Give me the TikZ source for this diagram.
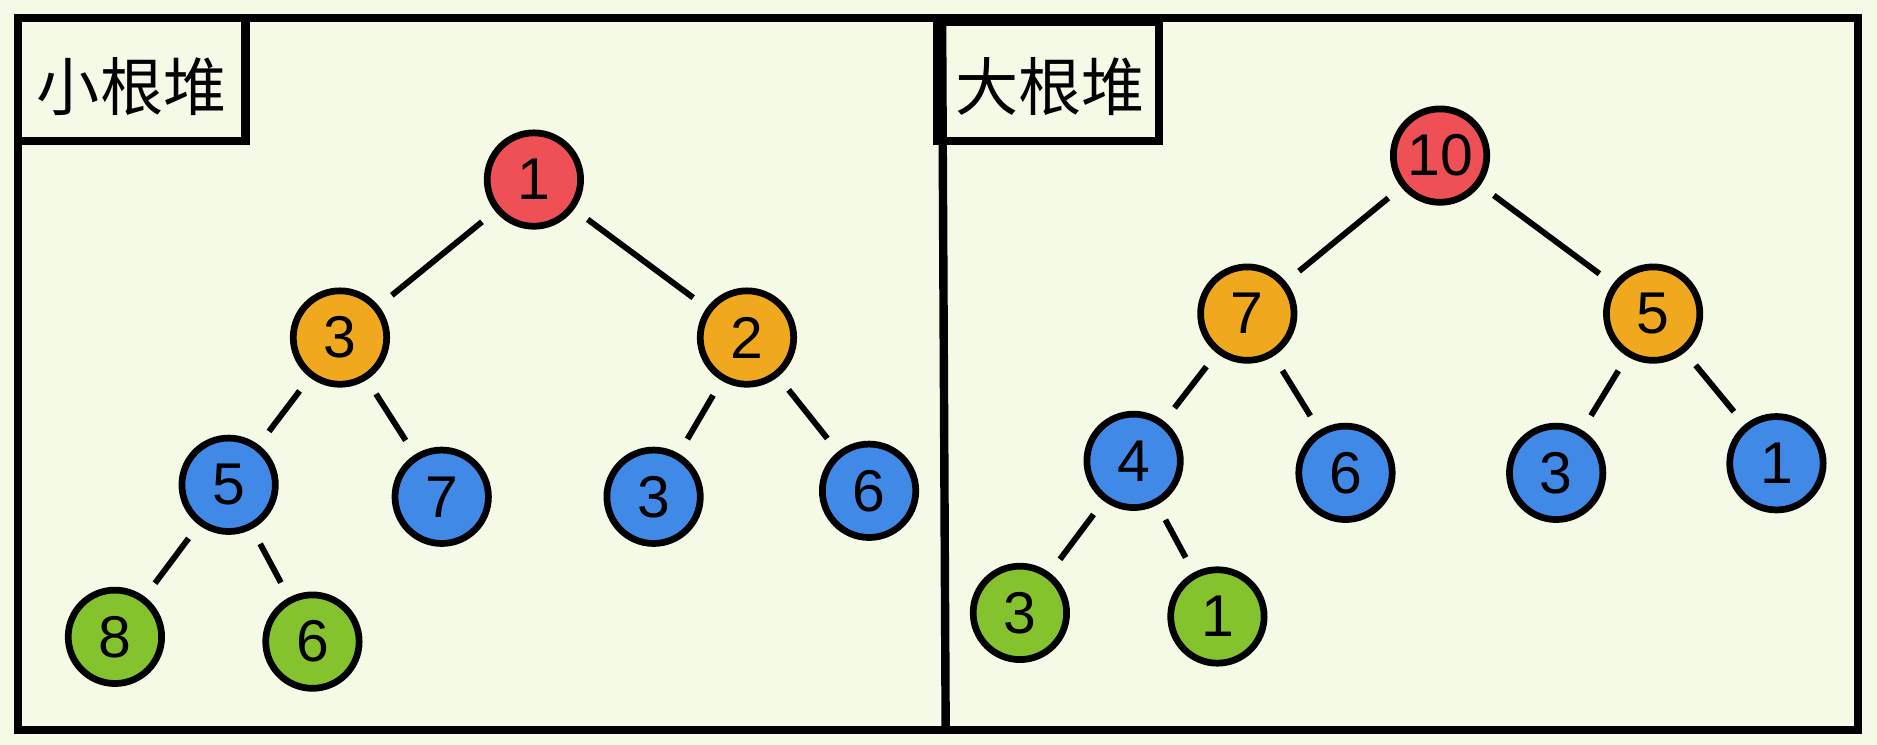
\documentclass[tikz,border=0pt]{standalone}
\usepackage{fontspec}
\newfontfamily\cjk{Noto Sans CJK SC}
\setmainfont{Liberation Sans}
\definecolor{bg}{HTML}{F5FAE6}
\definecolor{cr}{HTML}{EE5055}
\definecolor{co}{HTML}{F0A81E}
\definecolor{cb}{HTML}{4189E6}
\definecolor{cg}{HTML}{84C32E}
\begin{document}
\begin{tikzpicture}[x=0.01cm,y=-0.01cm,
  nd/.style={circle,draw=black,line width=1.6pt,minimum size=0.78cm,inner sep=0pt,font=\fontsize{14}{14}\selectfont},
  ed/.style={line width=1.4pt,shorten <=4pt,shorten >=4pt},
  frm/.style={line width=2pt}]
\fill[bg] (0,0) rectangle (1568,622);
\useasboundingbox (0,0) rectangle (1568,622);
\draw[frm] (15,15) rectangle (1552,610);
\draw[frm] (787,15) -- (790,610);
\draw[frm] (15,15) rectangle (205,118);
\draw[frm] (783,18) rectangle (968,118);
\node (t1) at (110,72) {\cjk\fontsize{15}{15}\selectfont 小根堆};
\node (t2) at (877,72) {\cjk\fontsize{15}{15}\selectfont 大根堆};
% left
\node[nd,fill=cr] (a1) at (446,150) {1};
\node[nd,fill=co] (a2) at (284,282) {3};
\node[nd,fill=co] (a3) at (624,282) {2};
\node[nd,fill=cb] (a4) at (191,405) {5};
\node[nd,fill=cb] (a5) at (369,415) {7};
\node[nd,fill=cb] (a6) at (546,415) {3};
\node[nd,fill=cb] (a7) at (726,410) {6};
\node[nd,fill=cg] (a8) at (96,532) {8};
\node[nd,fill=cg] (a9) at (261,536) {6};
\draw[ed] (a1)--(a2); \draw[ed] (a1)--(a3);
\draw[ed] (a2)--(a4); \draw[ed] (a2)--(a5);
\draw[ed] (a3)--(a6); \draw[ed] (a3)--(a7);
\draw[ed] (a4)--(a8); \draw[ed] (a4)--(a9);
% right
\node[nd,fill=cr] (b1) at (1203,130) {10};
\node[nd,fill=co] (b2) at (1042,262) {7};
\node[nd,fill=co] (b3) at (1381,262) {5};
\node[nd,fill=cb] (b4) at (947,385) {4};
\node[nd,fill=cb] (b5) at (1124,395) {6};
\node[nd,fill=cb] (b6) at (1300,395) {3};
\node[nd,fill=cb] (b7) at (1484,387) {1};
\node[nd,fill=cg] (b8) at (852,512) {3};
\node[nd,fill=cg] (b9) at (1017,515) {1};
\draw[ed] (b1)--(b2); \draw[ed] (b1)--(b3);
\draw[ed] (b2)--(b4); \draw[ed] (b2)--(b5);
\draw[ed] (b3)--(b6); \draw[ed] (b3)--(b7);
\draw[ed] (b4)--(b8); \draw[ed] (b4)--(b9);
\end{tikzpicture}
\end{document}
